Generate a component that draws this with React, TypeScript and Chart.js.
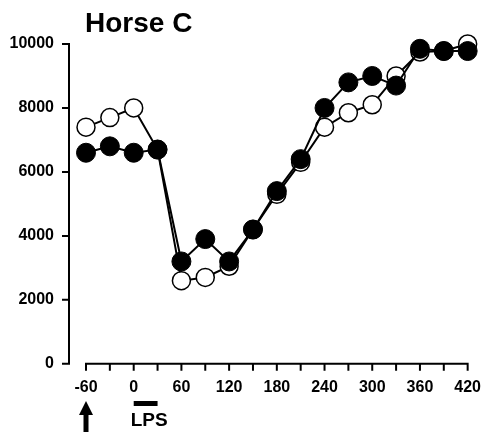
import React, { useEffect, useRef } from 'react';
import { Chart, registerables } from 'chart.js';

Chart.register(...registerables);

// ---- data ----
const times = [-60, -30, 0, 30, 60, 90, 120, 150, 180, 210, 240, 270, 300, 330, 360, 390, 420];
const filledValues = [6600, 6800, 6600, 6700, 3200, 3900, 3200, 4200, 5400, 6400, 8000, 8800, 9000, 8700, 9850, 9780, 9780];
const openValues = [7400, 7700, 8000, 6700, 2600, 2700, 3050, 4200, 5300, 6300, 7400, 7850, 8100, 9000, 9750, 9780, 10000];
const yTickValues = [0, 2000, 4000, 6000, 8000, 10000];
const xTickLabels = ['-60', '0', '60', '120', '180', '240', '300', '360', '420'];
const titleText = 'Horse C';
const lpsText = 'LPS';
const lpsStart = 0;
const lpsEnd = 30;
const arrowTime = -60;

const FONT = '"Liberation Sans", Arial, Helvetica, sans-serif';

export default function App() {
  const ref = useRef<HTMLCanvasElement | null>(null);

  useEffect(() => {
    document.body.style.margin = '0';
    const canvas = ref.current;
    if (!canvas) return;

    const decorPlugin = {
      id: 'decor',
      beforeDatasetsDraw(chart: any) {
        const { ctx, chartArea, scales } = chart;
        const xs = scales.x;
        const ys = scales.y;
        ctx.save();
        ctx.strokeStyle = '#000';
        ctx.lineWidth = 2;
        ctx.lineCap = 'square';
        const yAxisX = chartArea.left - 17;
        const y0 = ys.getPixelForValue(yTickValues[0]);
        const yTop = ys.getPixelForValue(yTickValues[yTickValues.length - 1]);
        ctx.beginPath();
        ctx.moveTo(yAxisX, y0);
        ctx.lineTo(yAxisX, yTop);
        yTickValues.forEach((v) => {
          const p = ys.getPixelForValue(v);
          ctx.moveTo(yAxisX - 6, p);
          ctx.lineTo(yAxisX, p);
        });
        ctx.stroke();

        const xl = xs.getPixelForValue(times[0]);
        const xr = xs.getPixelForValue(times[times.length - 1]);
        ctx.beginPath();
        ctx.moveTo(xl, y0);
        ctx.lineTo(xr, y0);
        xs.ticks.forEach((t: any) => {
          const p = xs.getPixelForValue(t.value);
          ctx.moveTo(p, y0);
          ctx.lineTo(p, y0 + 6);
        });
        ctx.stroke();
        ctx.restore();
      },
      afterDraw(chart: any) {
        const { ctx, scales } = chart;
        const xs = scales.x;
        ctx.save();
        ctx.fillStyle = '#000';
        // title
        ctx.font = `bold 28px ${FONT}`;
        ctx.textAlign = 'left';
        ctx.textBaseline = 'alphabetic';
        ctx.fillText(titleText, 85, 32);

        // LPS bar
        const b0 = xs.getPixelForValue(lpsStart);
        const b1 = xs.getPixelForValue(lpsEnd);
        ctx.fillRect(b0, 401, b1 - b0, 5);
        ctx.font = `bold 19px ${FONT}`;
        ctx.fillText(lpsText, b0 - 3, 426);

        // arrow
        const ax = xs.getPixelForValue(arrowTime);
        ctx.beginPath();
        ctx.moveTo(ax, 401);
        ctx.lineTo(ax - 7, 415);
        ctx.lineTo(ax + 7, 415);
        ctx.closePath();
        ctx.fill();
        ctx.fillRect(ax - 2.5, 414, 5, 20);
        ctx.restore();
      },
    };

    const chart = new Chart(canvas, {
      type: 'line',
      data: {
        datasets: [
          {
            label: 'filled',
            data: times.map((t, i) => ({ x: t, y: filledValues[i] })),
            borderColor: '#000',
            borderWidth: 2,
            backgroundColor: '#000',
            pointBackgroundColor: '#000',
            pointBorderColor: '#000',
            pointBorderWidth: 1,
            pointRadius: 9.5,
            tension: 0,
            clip: false,
          },
          {
            label: 'open',
            data: times.map((t, i) => ({ x: t, y: openValues[i] })),
            borderColor: '#000',
            borderWidth: 2,
            backgroundColor: '#fff',
            pointBackgroundColor: '#fff',
            pointBorderColor: '#000',
            pointBorderWidth: 1.5,
            pointRadius: 9,
            tension: 0,
            clip: false,
          },
        ],
      },
      options: {
        animation: false,
        responsive: false,
        events: [],
        layout: { padding: { left: 0, right: 17, top: 44, bottom: 21 } },
        plugins: {
          legend: { display: false },
          title: { display: false },
          tooltip: { enabled: false },
        },
        scales: {
          x: {
            type: 'linear',
            min: -60,
            max: 420,
            grid: { display: false, drawTicks: false },
            border: { display: false },
            ticks: {
              stepSize: 30,
              autoSkip: false,
              maxRotation: 0,
              padding: 14,
              color: '#000',
              font: { family: FONT, size: 16, weight: 'bold' },
              callback: (v: any) => (xTickLabels.includes(String(v)) ? String(v) : ''),
            },
          },
          y: {
            type: 'linear',
            min: 0,
            max: 10000,
            grid: { display: false, drawTicks: false },
            border: { display: false },
            afterFit: (scale: any) => {
              scale.width = 86;
            },
            ticks: {
              stepSize: 2000,
              padding: 32,
              color: '#000',
              font: { family: FONT, size: 16, weight: 'bold' },
              callback: (v: any) => String(v),
            },
          },
        },
      },
      plugins: [decorPlugin],
    } as any);

    return () => chart.destroy();
  }, []);

  return (
    <div style={{ position: 'relative', width: 495, height: 432 }}>
      <canvas ref={ref} width={495} height={432} />
    </div>
  );
}
